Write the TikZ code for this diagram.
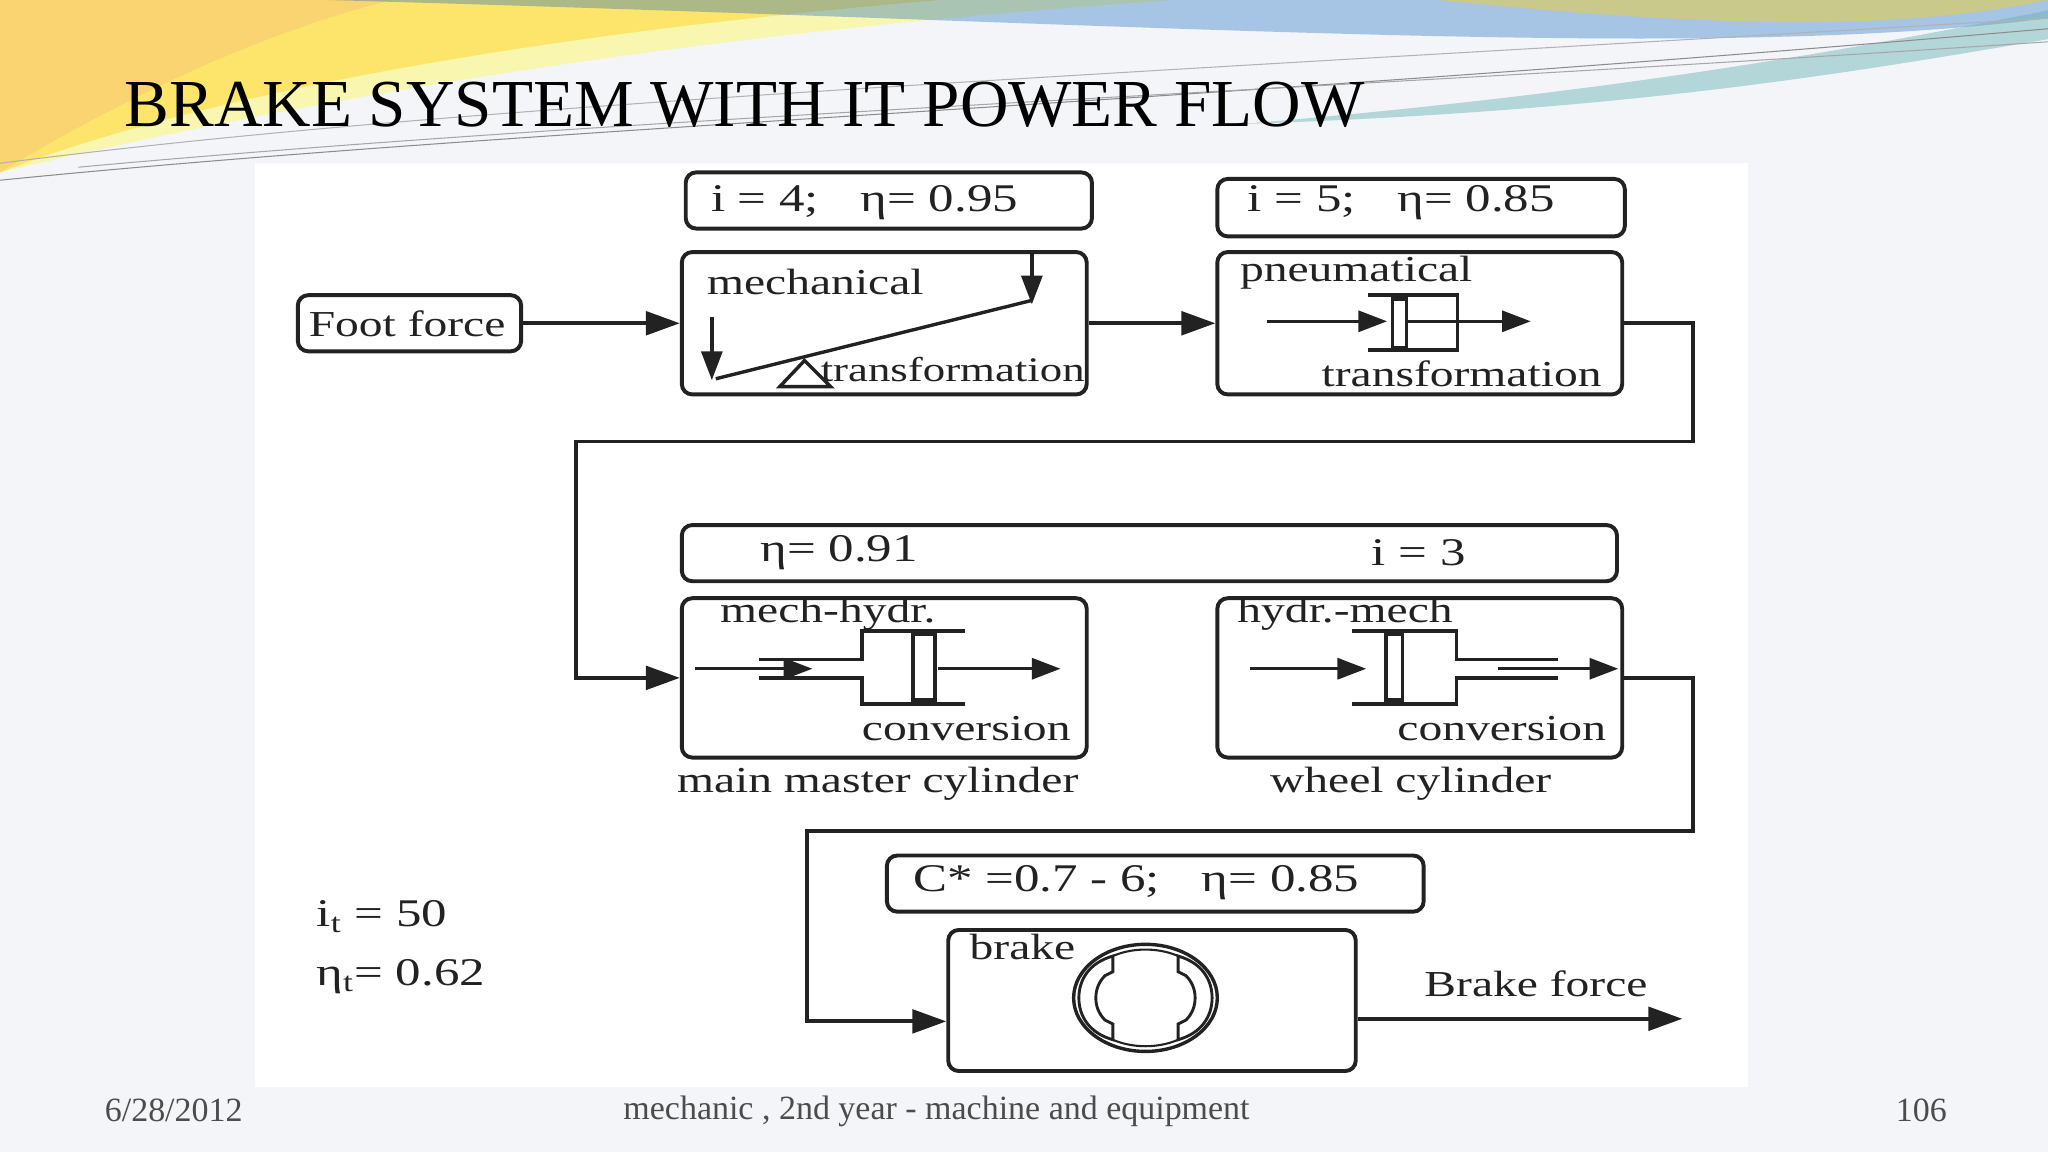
\documentclass[tikz,border=0pt]{standalone}
\usepackage{fontspec}
\setmainfont{Liberation Serif}
\newfontfamily\dia{Liberation Serif}[FakeStretch=1.3]
\usetikzlibrary{arrows.meta}
\definecolor{pagebg}{HTML}{F3F5F9}
\definecolor{ink}{HTML}{222222}
\begin{document}
\begin{tikzpicture}[x=0.5pt,y=-0.5pt,
  box/.style={draw=ink,line width=1.5pt,rounded corners=4pt,inner sep=0pt},
  arr/.style={draw=ink,line width=1.5pt,-{Triangle[length=13pt,width=9pt]}},
  sarr/.style={draw=ink,line width=1.3pt,-{Triangle[length=11pt,width=8pt]}},
  txt/.style={font=\dia\fontsize{14}{16}\selectfont,text=ink,inner sep=0pt},
  num/.style={font=\dia\fontsize{15}{18}\selectfont,text=ink,inner sep=0pt},
  foot/.style={font=\fontsize{13}{15}\selectfont,text=black!70,inner sep=0pt}]
\useasboundingbox (0,0) rectangle (1568,882);
\fill[pagebg] (0,0) rectangle (1568,882);
% decoration
\fill[orange!55!yellow,opacity=0.55] (0,0) -- (720,0) .. controls (420,25) and (160,70) .. (0,132) -- cycle;
\fill[yellow!60,opacity=0.5] (300,0) -- (900,0) .. controls (600,20) and (300,60) .. (0,132) .. controls (120,60) and (220,20) .. (300,0);
\fill[cyan!45!blue,opacity=0.35] (250,0) -- (1568,0) -- (1568,14) .. controls (1300,48) and (900,18) .. (250,0);
\fill[teal!60,opacity=0.45] (950,95) .. controls (1250,70) and (1430,35) .. (1568,8) -- (1568,30) .. controls (1420,55) and (1250,85) .. (950,95);
\fill[yellow!70!orange,opacity=0.4] (1100,0) .. controls (1300,20) and (1450,25) .. (1568,0) -- cycle;
\draw[black!45,line width=0.4pt] (0,138) .. controls (400,98) and (900,80) .. (1568,22);
\draw[black!35,line width=0.4pt] (60,128) .. controls (500,88) and (1000,70) .. (1568,32);
\draw[black!30,line width=0.4pt] (0,125) .. controls (350,80) and (800,60) .. (1568,14);
\fill[white] (195,125) rectangle (1338,832);
% title
\node[anchor=base west,inner sep=0pt,font=\fontsize{25.7}{30}\selectfont] (title) at (95,97) {BRAKE SYSTEM WITH IT POWER FLOW};
% boxes
\node[box,minimum width=155.5pt,minimum height=21.5pt] (p4) at (680.5,153.5) {};
\node[box,minimum width=156pt,minimum height=22pt] (p5) at (1088,159) {};
\node[box,minimum width=155pt,minimum height=54.5pt] (mech) at (677,247.5) {};
\node[box,minimum width=155pt,minimum height=54.5pt] (pneu) at (1087,247.5) {};
\node[box,minimum width=85.5pt,minimum height=21.5pt] (ff) at (313.5,247.5) {};
\node[box,minimum width=358pt,minimum height=21.5pt] (e91) at (880,423.5) {};
\node[box,minimum width=155pt,minimum height=61pt] (mh) at (677,519) {};
\node[box,minimum width=155pt,minimum height=61pt] (hm) at (1087,519) {};
\node[box,minimum width=205.5pt,minimum height=21.5pt] (cs) at (884.5,676.5) {};
\node[box,minimum width=156pt,minimum height=54pt] (br) at (882,766) {};
% texts
\node[txt,anchor=west] (tff) at (236,248) {Foot force};
\node[num,anchor=west] (t4) at (544,155) {i = 4;\hspace{16pt}η= 0.95};
\node[num,anchor=west] (t5) at (955,155) {i = 5;\hspace{16pt}η= 0.85};
\node[txt,anchor=west] (tmech) at (541,216) {mechanical};
\node[txt,anchor=west,font=\dia\fontsize{13.2}{16}\selectfont] (ttr1) at (628,283) {transformation};
\node[txt,anchor=west] (tpn) at (949,209) {pneumatical};
\node[txt] (ttr2) at (1119,286) {transformation};
\node[num,anchor=west] (t91) at (582,423) {η= 0.91};
\node[num,anchor=west] (ti3) at (1050,423) {i = 3};
\node[txt,anchor=west] (tmh) at (551,470) {mech-hydr.};
\node[txt,anchor=east] (tc1) at (820,558) {conversion};
\node[txt,anchor=west] (thm) at (947,470) {hydr.-mech};
\node[txt,anchor=east] (tc2) at (1230,558) {conversion};
\node[txt] (tmmc) at (672,600) {main master cylinder};
\node[txt] (twc) at (1080,600) {wheel cylinder};
\node[num,anchor=west] (tcs) at (699,676) {C* =0.7 - 6;\hspace{16pt}η= 0.85};
\node[txt,anchor=west] (tbr) at (742,725) {brake};
\node[txt] (tbf) at (1176,753) {Brake force};
\node[num,anchor=west] (tit) at (242,702) {i\textsubscript{t} = 50};
\node[num,anchor=west] (tet) at (242,748) {η\textsubscript{t}= 0.62};
% footer
\node[foot] (f1) at (133,850) {6/28/2012};
\node[foot] (f2) at (717,851) {mechanic , 2nd year - machine and equipment};
\node[foot] (f3) at (1471,850) {106};
% connectors
\draw[arr] (ff) -- (mech);
\draw[arr] (mech) -- (pneu);
\coordinate (a1) at (1296,247.5);
\coordinate (a2) at (1296,338);
\coordinate (a3) at (441,338);
\draw[arr] (pneu.east) -- (a1) -- (a2) -- (a3) |- (mh.west);
\coordinate (b1) at (1296,519);
\coordinate (b2) at (1296,636);
\coordinate (b3) at (618,636);
\coordinate (bin) at (br.west |- 0,782);
\draw[arr] (hm.east) -- (b1) -- (b2) -- (b3) |- (bin);
\coordinate (bout) at (br.east |- 0,780);
\coordinate (bend) at (1288,780);
\draw[arr] (bout) -- (bend);
% mechanical internals
\draw[ink,line width=1.3pt] (548,290) -- (790,230);
\draw[sarr] (790,194) -- (790,233);
\draw[sarr] (545,243) -- (545,291);
\draw[ink,line width=1.3pt,fill=white] (597,296) -- (616,276) -- (636,296) -- cycle;
% pneumatic internals
\draw[ink,line width=1.3pt] (1047,226) -- (1116,226) -- (1116,268) -- (1047,268);
\draw[sarr] (970,246) -- (1062,246);
\draw[sarr] (1077,246) -- (1172,246);
\draw[ink,line width=1.3pt,fill=white] (1066,229) rectangle (1077,266);
% mech-hydr internals
\draw[ink,line width=1.3pt] (739,483) -- (660,483) -- (660,505) -- (581,505);
\draw[ink,line width=1.3pt] (739,539) -- (660,539) -- (660,519) -- (581,519);
\draw[sarr] (532,512) -- (622,512);
\draw[sarr] (718,512) -- (812,512);
\draw[ink,line width=1.3pt,fill=white] (699,486) rectangle (716,536);
% hydr-mech internals
\draw[ink,line width=1.3pt] (1035,483) -- (1115,483) -- (1115,505) -- (1193,505);
\draw[ink,line width=1.3pt] (1035,539) -- (1115,539) -- (1115,519) -- (1193,519);
\draw[sarr] (957,512) -- (1046,512);
\draw[sarr] (1147,512) -- (1239,512);
\draw[ink,line width=1.3pt,fill=white] (1061,486) rectangle (1074,536);
% brake internals
\draw[ink,line width=1.3pt] (877,764) ellipse [x radius=55,y radius=41];
\draw[ink,line width=0.8pt] (877,764) ellipse [x radius=50,y radius=37];
\draw[ink,line width=1.1pt,fill=white] (852,732) .. controls (834,737) and (826,750) .. (826,764) .. controls (826,778) and (834,791) .. (852,796) -- (852,784) -- (846,781) .. controls (841,776) and (839,770) .. (839,764) .. controls (839,758) and (841,752) .. (846,747) -- (852,744) -- cycle;
\draw[ink,line width=1.1pt,fill=white] (902,732) .. controls (920,737) and (928,750) .. (928,764) .. controls (928,778) and (920,791) .. (902,796) -- (902,784) -- (908,781) .. controls (913,776) and (915,770) .. (915,764) .. controls (915,758) and (913,752) .. (908,747) -- (902,744) -- cycle;
\end{tikzpicture}
\end{document}
